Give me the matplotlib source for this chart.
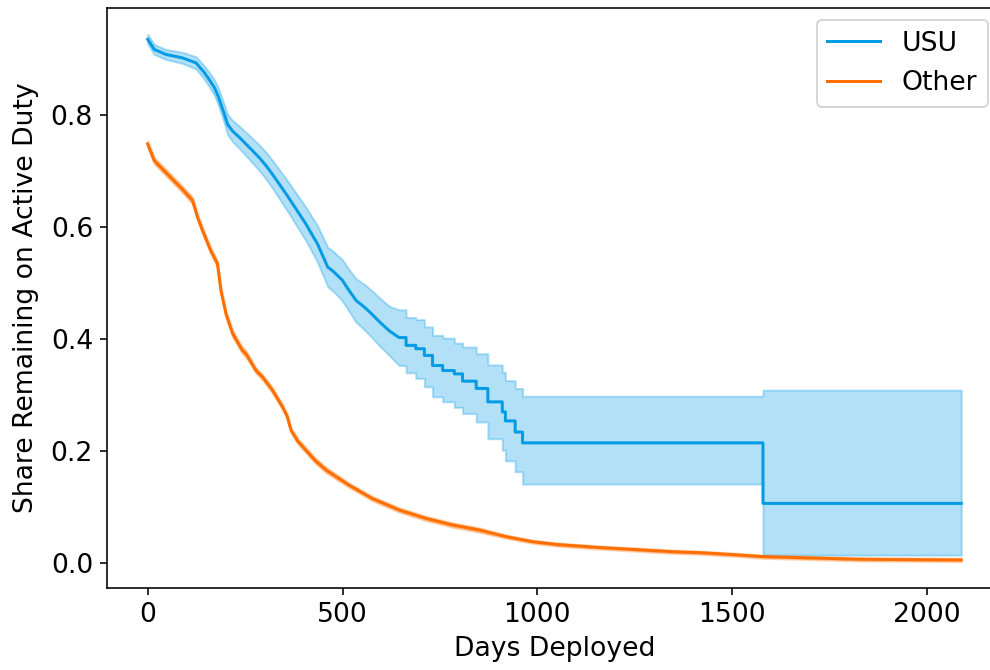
import matplotlib
matplotlib.use("Agg")
import matplotlib.pyplot as plt

# ---- USU Kaplan-Meier estimate ----
# dense early part (drawn as a continuous line) ...
usu_days = [0, 17, 47, 89, 124, 145, 160, 171, 180, 188, 197, 205, 218, 235, 252, 269, 287, 304,
            321, 338, 355, 372, 389, 406, 421, 436, 450, 462, 475, 487, 500, 512, 524, 535, 548,
            560, 578, 595, 620, 645]
usu_surv = [0.936, 0.918, 0.909, 0.903, 0.894, 0.877, 0.862, 0.850, 0.836, 0.820, 0.802, 0.784,
            0.772, 0.761, 0.749, 0.737, 0.724, 0.710, 0.694, 0.677, 0.660, 0.642, 0.624, 0.606,
            0.588, 0.570, 0.548, 0.529, 0.522, 0.514, 0.505, 0.492, 0.480, 0.469, 0.462, 0.455,
            0.443, 0.431, 0.415, 0.403]
usu_lower = [0.928, 0.909, 0.900, 0.893, 0.883, 0.865, 0.849, 0.836, 0.821, 0.804, 0.785, 0.766,
             0.753, 0.741, 0.728, 0.715, 0.701, 0.686, 0.669, 0.651, 0.633, 0.614, 0.595, 0.576,
             0.557, 0.537, 0.514, 0.494, 0.486, 0.478, 0.468, 0.455, 0.442, 0.430, 0.422, 0.414,
             0.401, 0.388, 0.371, 0.353]
usu_upper = [0.945, 0.927, 0.918, 0.913, 0.905, 0.889, 0.875, 0.864, 0.851, 0.836, 0.819, 0.802,
             0.791, 0.781, 0.770, 0.759, 0.747, 0.734, 0.719, 0.703, 0.687, 0.670, 0.653, 0.636,
             0.619, 0.603, 0.582, 0.564, 0.558, 0.550, 0.542, 0.529, 0.518, 0.508, 0.502, 0.496,
             0.485, 0.474, 0.459, 0.4526]
# ... and the visibly stepped later part (value changes at each listed day)
usu_step_days = [663, 688, 710, 731, 757, 787, 808, 843, 873, 910, 918, 943, 962, 1579, 2088]
usu_step_surv = [0.389, 0.383, 0.371, 0.353, 0.344, 0.338, 0.325, 0.312, 0.288, 0.270,
                 0.254, 0.234, 0.2147, 0.1065, 0.1065]
usu_step_lower = [0.340, 0.330, 0.315, 0.297, 0.288, 0.278, 0.267, 0.252, 0.222, 0.2016,
                  0.1825, 0.163, 0.141, 0.014, 0.014]
usu_step_upper = [0.439, 0.435, 0.422, 0.407, 0.402, 0.393, 0.386, 0.374, 0.354, 0.341,
                  0.326, 0.312, 0.298, 0.309, 0.309]

# ---- Other Kaplan-Meier estimate ----
oth_days = [0, 17, 34, 55, 89, 115, 128, 141, 162, 179, 188, 201, 218, 243, 252, 278, 295, 320,
            346, 358, 368, 385, 406, 430, 458, 517, 577, 646, 714, 783, 851, 920, 988, 1050,
            1150, 1250, 1350, 1416, 1500, 1579, 1700, 1827, 1950, 2088]
oth_surv = [0.749, 0.719, 0.707, 0.692, 0.668, 0.648, 0.618, 0.594, 0.558, 0.535, 0.487, 0.445,
            0.410, 0.380, 0.374, 0.344, 0.332, 0.309, 0.279, 0.262, 0.237, 0.218, 0.2016, 0.183,
            0.166, 0.139, 0.115, 0.0946, 0.0797, 0.0678, 0.0589, 0.047, 0.038, 0.033, 0.028,
            0.024, 0.020, 0.0184, 0.015, 0.0113, 0.009, 0.0066, 0.006, 0.0054]
oth_halfwidth = [0.006, 0.006, 0.006, 0.006, 0.006, 0.006, 0.006, 0.006, 0.006, 0.006, 0.006,
                 0.006, 0.006, 0.006, 0.006, 0.005, 0.005, 0.005, 0.005, 0.005, 0.005, 0.005,
                 0.005, 0.005, 0.005, 0.004, 0.004, 0.004, 0.004, 0.004, 0.004, 0.003, 0.003,
                 0.003, 0.003, 0.003, 0.003, 0.003, 0.003, 0.003, 0.003, 0.003, 0.003, 0.003]
oth_lower = [s - h for s, h in zip(oth_surv, oth_halfwidth)]
oth_upper = [s + h for s, h in zip(oth_surv, oth_halfwidth)]

labels = ["USU", "Other"]
blue = "#039BE5"
orange = "#FF6F00"


def add_steps(xs, ys, step_x, step_y):
    """Append step-post vertices (horizontal then vertical) to a polyline."""
    out_x, out_y = list(xs), list(ys)
    for x, y in zip(step_x, step_y):
        out_x += [x, x]
        out_y += [out_y[-1], y]
    return out_x, out_y


usu_x, usu_y = add_steps(usu_days, usu_surv, usu_step_days, usu_step_surv)
_, usu_lo = add_steps(usu_days, usu_lower, usu_step_days, usu_step_lower)
_, usu_hi = add_steps(usu_days, usu_upper, usu_step_days, usu_step_upper)

plt.rcParams["font.family"] = ["DejaVu Sans"]
plt.rcParams["font.size"] = 13.3

fig = plt.figure(figsize=(990 / 144, 670 / 144), dpi=144)
ax = fig.add_axes([0.1081, 0.1224, 0.904, 0.8657])

# USU
ax.fill_between(usu_x, usu_lo, usu_hi, color=blue, alpha=0.3, linewidth=1)
ax.plot(usu_x, usu_y, color=blue, linewidth=1.5, label=labels[0])

# Other
ax.fill_between(oth_days, oth_lower, oth_upper, color=orange, alpha=0.3, linewidth=1)
ax.plot(oth_days, oth_surv, color=orange, linewidth=1.5, label=labels[1])

ax.set_xlabel("Days Deployed")
ax.set_ylabel("Share Remaining on Active Duty", labelpad=6)
ax.legend(loc="upper right", bbox_to_anchor=(988 / 990, 1 - 20 / 670),
          bbox_transform=fig.transFigure, borderaxespad=0)

fig.savefig("out.png", dpi=144)
